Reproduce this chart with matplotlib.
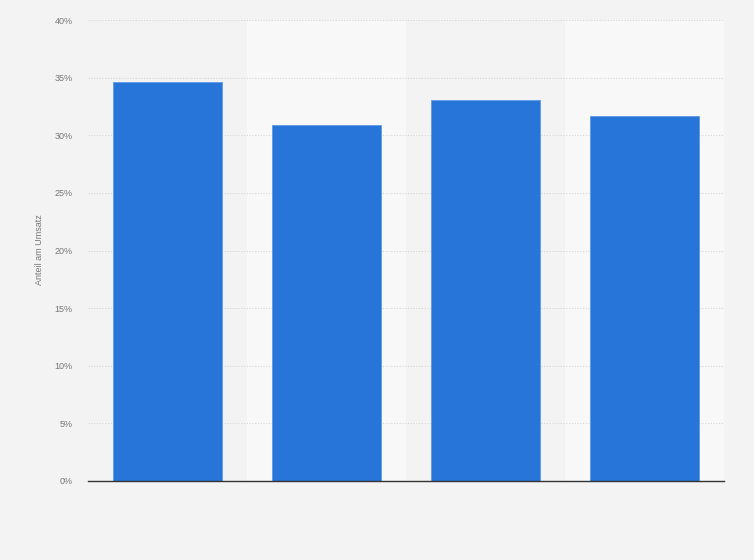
import matplotlib
matplotlib.use("Agg")
import matplotlib.pyplot as plt
import numpy as np

categories = ["", "", "", ""]
values = [34.6, 30.9, 33.1, 31.7]
yticks = [0, 5, 10, 15, 20, 25, 30, 35, 40]
ytick_labels = ["0%", "5%", "10%", "15%", "20%", "25%", "30%", "35%", "40%"]
ylabel = "Anteil am Umsatz"

plt.rcParams["font.family"] = ["Liberation Sans", "DejaVu Sans"]

bg = "#f3f3f3"
fig = plt.figure(figsize=(7.54, 5.60), dpi=100, facecolor=bg)
ax = fig.add_axes([88/754, (560-481)/560, 636/754, 461/560])
ax.set_facecolor(bg)

x = np.arange(len(categories))
for i in x:
    if i % 2 == 1:
        ax.axvspan(i - 0.5, i + 0.5, color="#f8f8f8", zorder=0, lw=0)

ax.bar(x, values, width=0.686, color="#2775d9", edgecolor="#5f9ae6", linewidth=0.6, zorder=3)

ax.set_xlim(-0.5, len(categories) - 0.5)
ax.set_ylim(0, 40)
ax.set_yticks(yticks)
ax.set_yticklabels(ytick_labels)
ax.set_xticks(x)
ax.set_xticklabels(categories)

ax.yaxis.grid(True, linestyle=(0, (1, 1.5)), color="#d6d6d6", linewidth=0.8, zorder=1)
ax.set_axisbelow(True)
for s in ["top", "right", "left"]:
    ax.spines[s].set_visible(False)
ax.spines["bottom"].set_color("#333333")
ax.spines["bottom"].set_linewidth(1.0)
ax.spines["bottom"].set_zorder(4)

ax.tick_params(axis="y", length=0, pad=11, labelsize=6.5, labelcolor="#777777")
ax.tick_params(axis="x", length=0, labelsize=6.5, labelcolor="#777777")

fig.text(40/754, 1 - 250/560, ylabel, rotation=90, fontsize=6.5, color="#777777",
         ha="center", va="center")

fig.savefig("out.png", dpi=100, facecolor=bg)
